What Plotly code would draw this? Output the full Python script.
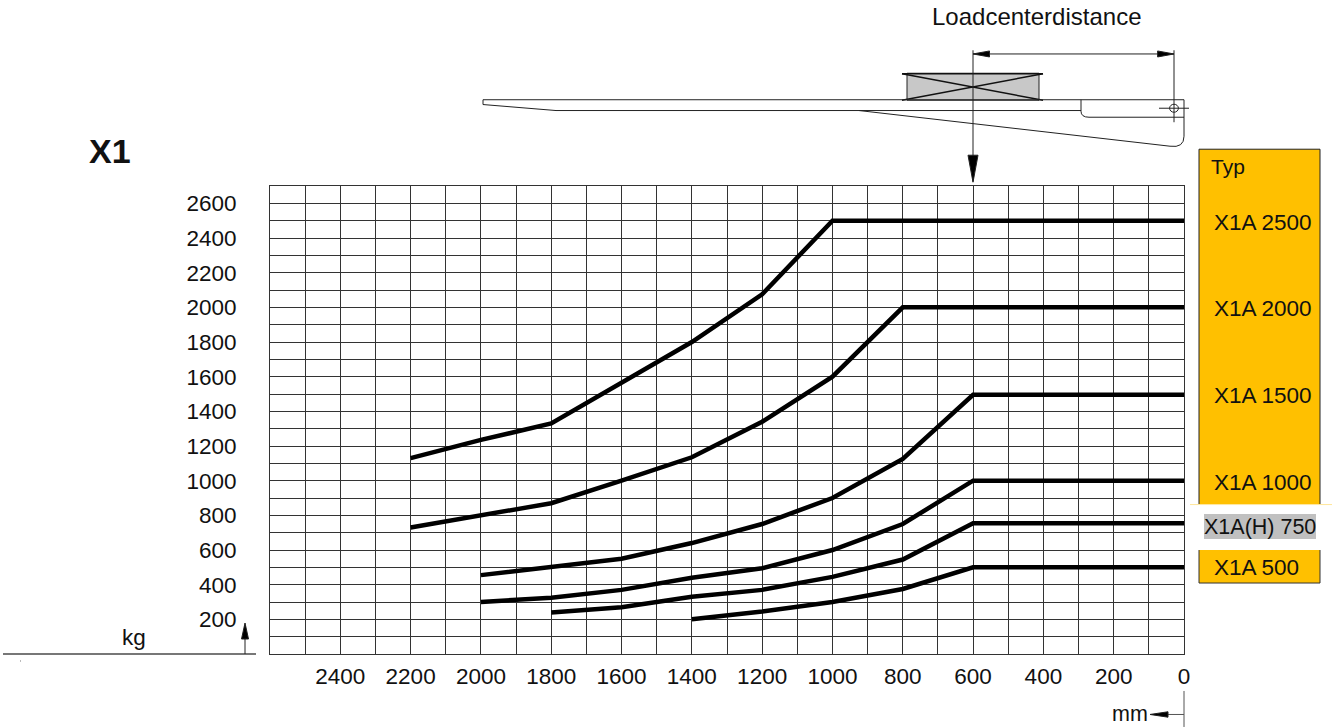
import plotly.graph_objects as go

# ---------- chart data ----------
series_names = ["X1A 2500", "X1A 2000", "X1A 1500", "X1A 1000", "X1A(H) 750", "X1A 500"]
x_2500 = [2200, 2000, 1800, 1600, 1400, 1200, 1000, 0]
y_2500 = [1130, 1235, 1330, 1565, 1800, 2075, 2500, 2500]
x_2000 = [2200, 2000, 1800, 1600, 1400, 1200, 1000, 800, 0]
y_2000 = [730, 800, 870, 1000, 1135, 1340, 1600, 2000, 2000]
x_1500 = [2000, 1800, 1600, 1400, 1200, 1000, 800, 600, 0]
y_1500 = [455, 500, 550, 640, 750, 900, 1125, 1495, 1495]
x_1000 = [2000, 1800, 1600, 1400, 1200, 1000, 800, 600, 0]
y_1000 = [300, 325, 370, 440, 495, 600, 750, 1000, 1000]
x_750 = [1800, 1600, 1400, 1200, 1000, 800, 600, 0]
y_750 = [240, 270, 330, 370, 445, 545, 755, 755]
x_500 = [1400, 1200, 1000, 800, 600, 0]
y_500 = [200, 245, 300, 375, 500, 500]

x_ticks = [2400, 2200, 2000, 1800, 1600, 1400, 1200, 1000, 800, 600, 400, 200, 0]
y_ticks = [200, 400, 600, 800, 1000, 1200, 1400, 1600, 1800, 2000, 2200, 2400, 2600]
x_grid = list(range(0, 2700, 100))
y_grid = list(range(0, 2800, 100))

FONT = "Liberation Sans"
W, H = 1332, 727
L, R, T, B = 270.0, 1184.0, 185.8, 654.0


def px(x):
    return (x - L) / (R - L)


def py(y):
    return (B - y) / (B - T)


def line(x0, y0, x1, y1, color="#222", width=1):
    return dict(type="line", xref="paper", yref="paper", x0=px(x0), y0=py(y0), x1=px(x1), y1=py(y1),
                line=dict(color=color, width=width), layer="above")


def rect(x0, y0, x1, y1, fill, color=None, width=0):
    return dict(type="rect", xref="paper", yref="paper", x0=px(x0), y0=py(y0), x1=px(x1), y1=py(y1),
                fillcolor=fill, line=dict(color=color or fill, width=width), layer="below")


def path(points, fill=None, color="#222", width=1, closed=False):
    d = ""
    for i, p in enumerate(points):
        if p[0] == "Q":
            d += f"Q{px(p[1])},{py(p[2])} {px(p[3])},{py(p[4])} "
        else:
            d += ("M" if i == 0 else "L") + f"{px(p[0])},{py(p[1])} "
    if closed:
        d += "Z"
    s = dict(type="path", xref="paper", yref="paper", path=d, line=dict(color=color, width=width), layer="above")
    if fill:
        s["fillcolor"] = fill
    return s


def label(text, x, y, size=22.5, anchor="left", bold=False, color="#111"):
    return dict(text=f"<b>{text}</b>" if bold else text, xref="paper", yref="paper", x=px(x), y=py(y),
                xanchor=anchor, yanchor="middle", showarrow=False,
                font=dict(family=FONT, size=size, color=color), borderpad=0, borderwidth=0)


fig = go.Figure()
for name, xs, ys in zip(series_names,
                        [x_2500, x_2000, x_1500, x_1000, x_750, x_500],
                        [y_2500, y_2000, y_1500, y_1000, y_750, y_500]):
    fig.add_trace(go.Scatter(x=xs, y=ys, mode="lines", name=name,
                             line=dict(color="#000000", width=4.5, shape="linear"), showlegend=False))

shapes = [
    # type panel
    rect(1199, 149, 1320, 504, "#FFC000"),
    path([(1199, 504), (1199, 149), (1320, 149), (1320, 504)], color="#222"),
    rect(1199, 550, 1320, 583, "#FFC000"),
    path([(1199, 550), (1199, 583), (1320, 583), (1320, 550)], color="#333"),
    line(1190, 504.5, 1332, 504.5, "#FFE699", 1),
    rect(1204, 514, 1316, 539, "#C0C0C0"),
    # fork drawing
    rect(907, 73, 1039, 100, "#C8C8C8", "#222", 1),
    line(902, 73.5, 1043, 73.5, "#111", 1.5),
    line(902, 73.5, 1043, 100, "#111", 1.5),
    line(902, 100, 1043, 73.5, "#111", 1.5),
    path([(1081, 110.3), (556, 110.3), (483, 104.3), (483, 99.5), (1184, 99.5)]),
    path([(1081, 99.5), (1081, 111), ("Q", 1081, 117, 1089, 117), (1184, 117)]),
    path([(859, 110.3), (1170, 146), ("Q", 1184, 148, 1184, 136), (1184, 99.5)]),
    dict(type="circle", xref="paper", yref="paper", x0=px(1169.6), y0=py(104), x1=px(1178.4), y1=py(112),
         line=dict(color="#222", width=1), layer="above"),
    line(1159, 108, 1189, 108),
    line(1174, 50, 1174, 122),
    # dimension
    line(973, 53.7, 1174, 53.7),
    path([(973, 53.7), (989.5, 50.7), (989.5, 56.7)], fill="#000", closed=True),
    path([(1174, 53.7), (1157.6, 50.7), (1157.6, 56.7)], fill="#000", closed=True),
    line(973, 50, 973, 181),
    path([(973, 182), (968, 155), (978, 155)], fill="#000", closed=True),
    # kg axis marker
    line(3, 654, 256, 654, "#777", 2),
    line(245, 654, 245, 625),
    path([(245, 623), (241.5, 639), (248.5, 639)], fill="#000", closed=True),
    line(20, 661, 20.8, 661, "#555", 1),
    # mm axis marker
    line(1184, 691, 1184, 727, "#555", 1),
    line(1150, 714.5, 1184, 714.5, "#555", 1),
    path([(1150, 714.5), (1168, 711.8), (1168, 717.2)], fill="#000", closed=True),
]

annotations = [
    label("Loadcenterdistance", 1036, 16, size=24, anchor="center"),
    label("X1", 110, 151, size=34, anchor="center", bold=True),
    label("Typ", 1211, 166, size=21),
    label("X1A 2500", 1214, 222),
    label("X1A 2000", 1214, 308),
    label("X1A 1500", 1214, 395),
    label("X1A 1000", 1214, 482),
    label("X1A(H) 750", 1204, 527, size=21.5),
    label("X1A 500", 1214, 567),
    label("kg", 134, 637, anchor="center"),
    label("mm", 1112, 714, size=21.5),
]

grid = dict(showgrid=True, gridcolor="#333333", gridwidth=1)
frame = dict(showline=True, linecolor="#333333", linewidth=1, mirror=True, zeroline=False)
fig.update_layout(
    width=W, height=H, autosize=False,
    margin=dict(l=L, r=W - R, t=T, b=H - B, pad=0),
    paper_bgcolor="white", plot_bgcolor="white",
    showlegend=False, shapes=shapes, annotations=annotations,
    font=dict(family=FONT, size=22.5, color="#111"),
    xaxis=dict(range=[2600, 0], tickmode="array", tickvals=x_ticks, ticktext=[str(v) for v in x_ticks],
               ticks="outside", ticklen=2, tickcolor="rgba(0,0,0,0)",
               minor=dict(tickmode="array", tickvals=x_grid, showgrid=True, gridcolor="#333333", gridwidth=1, ticks=""),
               **grid, **frame),
    yaxis=dict(range=[0, 2700], tickmode="array", tickvals=y_ticks, ticktext=[str(v) for v in y_ticks],
               ticks="outside", ticklen=28, tickcolor="rgba(0,0,0,0)",
               minor=dict(tickmode="array", tickvals=y_grid, showgrid=True, gridcolor="#333333", gridwidth=1, ticks=""),
               **grid, **frame),
)

fig.write_html("out.html", config={"displayModeBar": False},
               post_script="document.body.style.margin='0';document.body.style.overflow='hidden';")
